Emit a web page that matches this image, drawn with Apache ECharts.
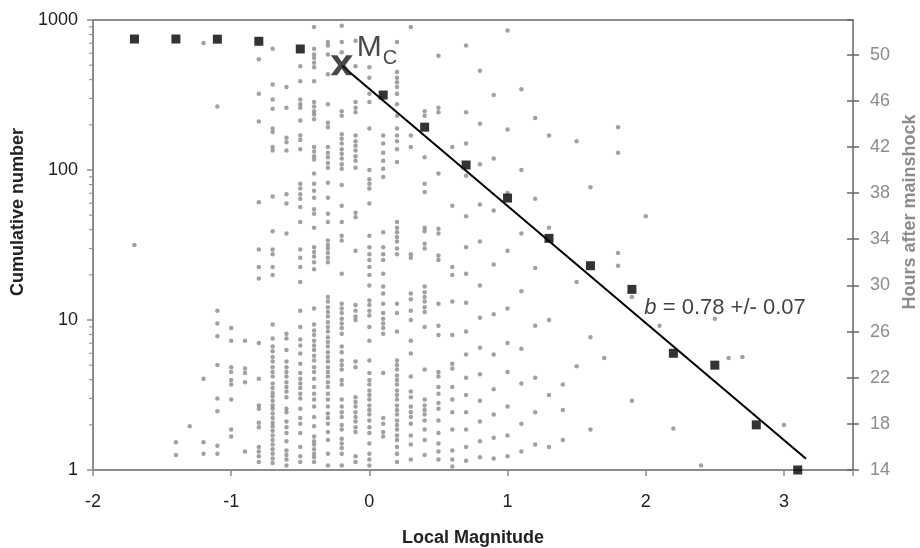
<!DOCTYPE html>
<html>
<head>
<meta charset="utf-8">
<script src="https://cdn.jsdelivr.net/npm/echarts@6/dist/echarts.min.js"></script>
<style>
  html, body { margin: 0; padding: 0; background: #fff; }
  #chart { width: 920px; height: 548px; }
</style>
</head>
<body>
<div id="chart"></div>
<script>
// Frequency-magnitude distribution (left, log) and event times (right, hours)

// Cumulative number of events at or above each magnitude bin
const binMagnitudes = [-1.7, -1.4, -1.1, -0.8, -0.5, 0.1, 0.4, 0.7, 1.0, 1.3, 1.6, 1.9, 2.2, 2.5, 2.8, 3.1];
const cumulativeCounts = [747, 747, 745, 721, 641, 316, 193, 108, 65, 35, 23, 16, 6, 5, 2, 1];

// Magnitude of completeness
const mcMagnitude = -0.2;
const mcCount = 500;

// Gutenberg-Richter fit: log10 N = a - b M
const bValue = 0.78;
const bError = 0.07;
const fitIntercept = 2.54;
const fitEndMagnitude = 3.16;

// Individual events: magnitude column and the hours after the mainshock of each event
const dotMagnitudes = [-1.7, -1.4, -1.3, -1.2, -1.1, -1.0, -0.9, -0.8, -0.7, -0.6, -0.5, -0.4, -0.3, -0.2, -0.1, 0.0,
  0.1, 0.2, 0.3, 0.4, 0.5, 0.6, 0.7, 0.8, 0.9, 1.0, 1.1, 1.2, 1.3, 1.4, 1.5, 1.6, 1.7, 1.8, 1.9, 2.0, 2.1, 2.2, 2.4, 2.5, 2.6, 2.7, 3.0];
const dotHours = [
  [33.5],
  [16.4, 15.3],
  [17.8],
  [51.0, 21.9, 16.4, 15.4],
  [45.5, 27.8, 26.7, 25.6, 23.1, 20.2, 19.1, 16.1, 15.4],
  [26.3, 25.2, 22.9, 22.5, 21.8, 21.4, 20.1, 17.5, 16.9],
  [25.2, 22.8, 22.4, 21.6, 15.6],
  [49.6, 46.6, 44.2, 37.2, 33.1, 31.6, 30.6, 25.0, 21.9, 19.6, 19.3, 18.1, 17.7, 16.0, 15.6, 15.2, 14.7],
  [50.5, 47.4, 46.1, 45.3, 43.6, 43.3, 42.0, 41.7, 37.7, 34.7, 33.1, 32.7, 31.6, 30.9, 26.6, 25.4, 24.7, 24.3,
   23.8, 23.4, 22.9, 22.5, 22.1, 21.5, 21.1, 20.7, 20.4, 20.0, 19.6, 19.3, 18.9, 18.5, 18.1, 17.8, 17.4, 17.0,
   16.6, 16.2, 15.8, 15.4, 15.0, 14.6],
  [47.2, 45.4, 42.8, 42.4, 41.7, 37.9, 37.1, 34.5, 25.8, 25.4, 24.4, 23.4, 22.9, 22.5, 22.1, 21.6, 21.2, 20.8,
   20.3, 19.3, 19.0, 18.2, 17.7, 17.2, 16.5, 15.7, 15.3, 14.9, 14.4],
  [49.0, 47.7, 46.1, 45.7, 45.4, 44.3, 43.0, 42.6, 41.8, 38.8, 38.4, 37.9, 37.5, 36.8, 35.5, 33.1, 32.4, 31.6,
   30.3, 27.8, 26.4, 25.3, 24.8, 24.1, 23.2, 22.4, 21.9, 21.5, 21.1, 20.6, 20.2, 19.3, 18.5, 18.0, 17.2, 16.0,
   15.2, 14.7],
  [52.4, 50.5, 50.0, 49.7, 49.3, 48.9, 47.7, 45.9, 45.5, 45.1, 44.8, 44.4, 42.0, 41.6, 41.2, 40.9, 39.7, 38.8,
   38.2, 37.6, 36.6, 36.2, 35.0, 33.3, 32.9, 32.5, 32.0, 31.4, 28.0, 26.6, 26.1, 25.7, 25.2, 24.8, 24.4, 23.9,
   23.5, 22.9, 22.5, 21.9, 21.2, 20.6, 20.1, 19.5, 18.6, 17.8, 16.9, 16.5, 16.2, 15.8, 15.4, 15.1, 14.7],
  [51.1, 50.8, 50.0, 48.3, 45.7, 44.1, 43.7, 42.0, 41.5, 41.1, 40.6, 40.2, 38.9, 37.6, 36.2, 35.5, 33.9, 33.5,
   33.2, 32.8, 32.4, 32.0, 29.0, 28.6, 28.1, 27.7, 27.3, 26.8, 26.4, 26.0, 25.5, 25.1, 24.7, 24.2, 23.8, 23.4,
   22.9, 22.5, 22.1, 21.6, 21.2, 20.6, 20.1, 19.5, 18.9, 18.5, 18.0, 17.3, 16.6, 15.4, 14.4],
  [52.5, 51.1, 50.2, 45.1, 44.7, 43.1, 42.7, 42.3, 41.8, 41.4, 41.0, 40.5, 40.1, 38.7, 36.9, 35.5, 34.3, 33.9,
   31.0, 28.4, 28.0, 27.6, 27.1, 26.7, 26.3, 25.8, 24.7, 24.2, 23.5, 23.1, 22.7, 21.8, 21.4, 20.1, 19.5, 19.0,
   18.6, 17.9, 17.5, 16.7, 16.3, 15.9, 15.4, 14.4],
  [51.2, 49.0, 45.9, 45.4, 45.0, 43.0, 42.5, 42.1, 41.7, 41.2, 40.8, 40.2, 36.3, 35.9, 33.0, 28.3, 27.8, 27.3,
   27.0, 23.4, 22.9, 20.3, 19.9, 19.5, 19.0, 18.6, 18.2, 17.7, 17.3, 15.2, 14.7],
  [48.9, 48.0, 46.6, 45.9, 43.6, 40.0, 39.2, 38.8, 38.4, 37.1, 34.3, 33.3, 32.7, 32.2, 31.6, 30.9, 30.0, 28.7,
   28.3, 27.8, 27.4, 26.4, 25.2, 23.5, 22.4, 21.8, 21.4, 20.9, 20.5, 20.1, 19.6, 19.2, 18.8, 18.3, 17.7, 17.2,
   16.3, 15.4, 14.9, 14.4],
  [43.0, 42.3, 41.5, 40.8, 40.1, 39.4, 34.6, 33.3, 32.7, 32.2, 31.0, 29.9, 29.3, 28.4, 27.6, 27.1, 26.7, 26.3,
   25.8, 22.4, 18.5, 18.0, 17.3, 16.9],
  [51.1, 48.5, 48.0, 47.6, 47.2, 46.6, 45.7, 44.7, 43.6, 43.0, 42.5, 41.8, 40.7, 35.5, 35.0, 34.6, 34.2, 33.8,
   33.2, 32.7, 28.4, 27.6, 26.0, 23.5, 23.1, 22.7, 22.2, 21.8, 21.4, 20.9, 20.5, 20.1, 19.6, 19.2, 18.8, 18.3,
   17.9, 17.5, 17.0, 16.6, 16.0, 15.4, 14.7],
  [52.4, 43.0, 42.0, 32.7, 32.4, 29.3, 28.8, 27.8, 27.0, 25.2, 24.1, 22.1, 20.8, 20.3, 19.5, 19.0, 18.6, 18.0,
   17.0, 16.2, 14.9],
  [45.1, 44.7, 41.1, 38.8, 38.1, 35.0, 34.7, 33.6, 33.2, 29.9, 29.4, 29.0, 28.6, 28.1, 27.7, 26.4, 22.7, 20.1,
   19.6, 19.2, 18.8, 18.3, 17.5, 16.6, 15.3],
  [49.9, 45.4, 45.0, 39.7, 34.9, 34.5, 32.6, 32.2, 28.4, 26.5, 25.7, 22.5, 22.1, 21.2, 20.6, 19.8, 19.3, 18.3,
   17.2, 16.3, 15.6, 14.9],
  [42.0, 36.9, 31.6, 30.9, 28.6, 25.7, 23.2, 22.8, 21.2, 20.1, 19.0, 17.5, 15.7, 14.9, 14.3],
  [50.8, 45.0, 42.3, 39.5, 36.0, 33.3, 31.0, 28.5, 26.0, 24.0, 22.0, 20.5, 19.0, 17.5, 16.0, 14.8],
  [48.6, 44.0, 40.5, 37.0, 33.8, 30.0, 27.2, 24.6, 22.3, 20.0, 18.2, 16.5, 15.1],
  [46.5, 41.0, 36.5, 31.8, 27.5, 24.0, 21.0, 18.8, 16.8, 15.0],
  [52.1, 43.5, 38.0, 33.0, 28.0, 25.0, 22.5, 19.5, 17.0, 15.2],
  [47.0, 40.0, 34.5, 29.5, 24.5, 21.5, 18.0, 15.6],
  [44.5, 37.5, 31.5, 26.5, 22.0, 19.0, 16.2],
  [43.0, 35.0, 27.0, 20.5, 16.0],
  [21.4, 19.2, 16.6],
  [42.5, 30.3, 23.0],
  [38.5, 25.5, 17.5],
  [23.7],
  [43.7, 41.5, 32.8, 31.7],
  [29.0, 20.0],
  [36.0],
  [26.5],
  [17.6],
  [14.4],
  [27.1],
  [23.7],
  [23.8],
  [17.9]
];

// Tick values shown on each axis
const magnitudeMin = -2;
const magnitudeMax = 3.5;
const magnitudeTicks = [-2, -1, 0, 1, 2, 3];
const countTicks = [1, 10, 100, 1000];
const countMinorTicks = [2, 3, 4, 5, 6, 7, 8, 9, 20, 30, 40, 50, 60, 70, 80, 90, 200, 300, 400, 500, 600, 700, 800, 900];
const hourTicks = [14, 18, 22, 26, 30, 34, 38, 42, 46, 50];

const eventPoints = [];
dotMagnitudes.forEach((m, i) => {
  dotHours[i].forEach(h => eventPoints.push([m, h]));
});
const binPoints = binMagnitudes.map((m, i) => [m, cumulativeCounts[i]]);
const fitPoints = [mcMagnitude, fitEndMagnitude].map(m => [m, Math.pow(10, fitIntercept - bValue * m)]);

const axisGray = '#8c8c8c';
const font = 'Liberation Sans, Arial, sans-serif';

const chart = echarts.init(document.getElementById('chart'), null, { renderer: 'canvas' });
chart.setOption({
  animation: false,
  backgroundColor: '#fff',
  textStyle: { fontFamily: font },
  grid: {
    left: 93, right: 67, top: 20, bottom: 78, containLabel: false, outerBoundsMode: 'none',
    show: true, borderColor: axisGray, borderWidth: 2, backgroundColor: 'transparent'
  },
  xAxis: {
    type: 'value', min: magnitudeMin, max: magnitudeMax, interval: 1,
    name: 'Local Magnitude', nameLocation: 'middle', nameGap: 59,
    nameTextStyle: { fontSize: 18, fontWeight: 'bold', color: '#222', fontFamily: font },
    axisLine: { onZero: false, lineStyle: { color: axisGray, width: 2 } },
    axisTick: { show: true, length: 6, lineStyle: { color: axisGray, width: 1.5 } },
    axisLabel: { fontSize: 18, color: '#222', margin: 23,
      formatter: v => magnitudeTicks.indexOf(v) >= 0 ? String(v) : '' },
    splitLine: { show: false }
  },
  yAxis: [
    {
      type: 'log', logBase: 10, min: 1, max: 1000, position: 'left',
      name: 'Cumulative number', nameLocation: 'middle', nameGap: 58, nameRotate: 90,
      nameTextStyle: { fontSize: 18, fontWeight: 'bold', color: '#222', fontFamily: font, padding: [0, 0, 0, 66] },
      axisLine: { show: true, onZero: false, lineStyle: { color: axisGray, width: 2 } },
      axisTick: { show: true, length: 6, lineStyle: { color: axisGray, width: 1.5 } },
      axisLabel: { fontSize: 18, color: '#222', margin: 15,
        formatter: v => countTicks.indexOf(Math.round(v)) >= 0 ? String(Math.round(v)) : '' },
      splitLine: { show: false }
    },
    {
      type: 'value', min: 14, max: 53, interval: 4, position: 'right',
      name: 'Hours after mainshock', nameLocation: 'middle', nameGap: 47, nameRotate: 90,
      nameTextStyle: { fontSize: 18, fontWeight: 'bold', color: '#8c8c8c', fontFamily: font, padding: [0, 0, 0, 66] },
      axisLine: { show: true, onZero: false, lineStyle: { color: axisGray, width: 2 } },
      axisTick: { show: true, length: 6, lineStyle: { color: '#666', width: 1.5 } },
      axisLabel: { fontSize: 18, color: '#8c8c8c', margin: 17, showMaxLabel: false,
        formatter: v => hourTicks.indexOf(v) >= 0 ? String(v) : '' },
      splitLine: { show: false }
    },
    {
      // inner half of the crossing ticks on the hours axis
      type: 'value', min: 14, max: 53, interval: 4, position: 'right',
      axisLine: { show: false, onZero: false },
      axisTick: { show: true, inside: true, length: 6, lineStyle: { color: '#666', width: 1.5 } },
      axisLabel: { show: false },
      splitLine: { show: false }
    }
  ],
  series: [
    {
      // minor ticks of the logarithmic count axis
      name: 'minor ticks', type: 'custom', yAxisIndex: 0, silent: true, clip: false, z: 1,
      data: countMinorTicks.map(v => [magnitudeMin, v]),
      renderItem: (params, api) => {
        const p = api.coord([api.value(0), api.value(1)]);
        return {
          type: 'line',
          shape: { x1: p[0] - 4, y1: p[1], x2: p[0], y2: p[1] },
          style: { stroke: axisGray, lineWidth: 1 }
        };
      }
    },
    {
      name: 'events', type: 'scatter', yAxisIndex: 1, data: eventPoints,
      symbol: 'circle', symbolSize: 4.5, itemStyle: { color: '#8a8a8a' }, z: 2, silent: true
    },
    {
      name: 'fit', type: 'line', yAxisIndex: 0, data: fitPoints,
      symbol: 'none', lineStyle: { color: '#000', width: 2 }, z: 3, silent: true
    },
    {
      name: 'cumulative', type: 'scatter', yAxisIndex: 0, data: binPoints,
      symbol: 'rect', symbolSize: 9, itemStyle: { color: '#000' }, z: 4, silent: true
    },
    {
      name: 'Mc', type: 'scatter', yAxisIndex: 0, data: [[mcMagnitude, mcCount]],
      symbol: 'path://M0,0 L6.5,0 L11,6.5 L15.5,0 L22,0 L14.5,10 L22,20 L15.5,20 L11,13.5 L6.5,20 L0,20 L7.5,10 Z',
      symbolSize: [22, 20], itemStyle: { color: '#1a1a1a' }, z: 5, silent: true,
      label: {
        show: true, position: 'right', distance: 4, offset: [0, -17],
        formatter: '{m|M}{c|C}',
        rich: {
          m: { fontSize: 30, color: '#1a1a1a', fontFamily: font },
          c: { fontSize: 20, color: '#1a1a1a', fontFamily: font, padding: [20, 0, 0, 1] }
        }
      }
    },
    {
      name: 'b-value', type: 'scatter', yAxisIndex: 0, data: [[1.99, 12]],
      symbolSize: 0, silent: true, z: 5,
      label: {
        show: true, position: 'right', distance: 0,
        formatter: () => '{b|b}{t| = ' + bValue.toFixed(2) + ' +/- ' + bError.toFixed(2) + '}',
        rich: {
          b: { fontSize: 22, fontStyle: 'italic', color: '#111', fontFamily: font },
          t: { fontSize: 22, color: '#111', fontFamily: font }
        }
      }
    }
  ]
});
</script>
</body>
</html>
